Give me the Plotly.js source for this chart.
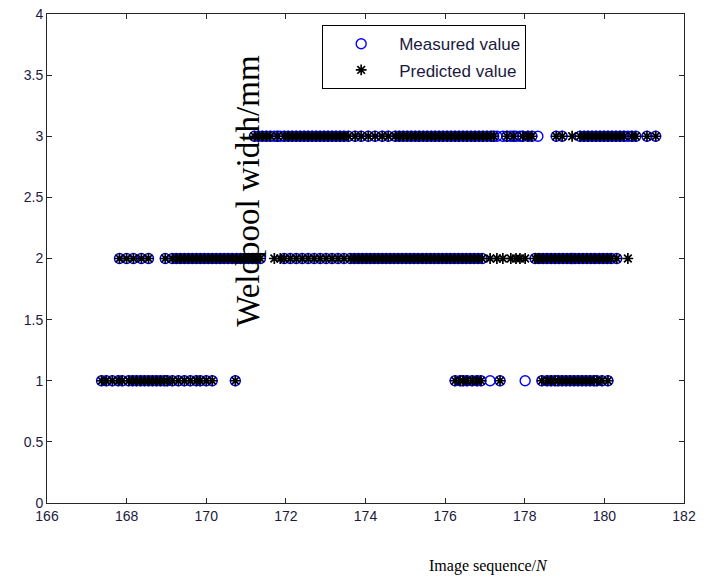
<!DOCTYPE html>
<html>
<head>
<meta charset="utf-8">
<script src="https://cdn.plot.ly/plotly-3.0.1.min.js"></script>
<style>html,body{margin:0;padding:0;background:#fff}#chart{width:717px;height:579px}</style>
</head>
<body>
<div id="chart"></div>
<script>
// Image sequence positions where measured and predicted widths agree
const seqAgree1 = [167.37, 167.49, 167.64, 167.79, 167.89, 168.05, 168.15, 168.25, 168.35, 168.45, 168.55, 168.65, 168.75, 168.85, 168.95, 169.02, 169.15, 169.30, 169.45, 169.60, 169.75, 169.85, 170.00, 170.15, 170.73,
  176.25, 176.38, 176.45, 176.55, 176.68, 176.80, 176.90, 177.38,
  178.43, 178.56, 178.66, 178.76, 178.84, 178.94, 179.04, 179.14, 179.24, 179.34, 179.44, 179.54, 179.64, 179.74, 179.81, 179.94, 180.09];
const seqAgree2 = [167.82, 168.00, 168.17, 168.37, 168.55, 168.97, 169.15, 169.25, 169.35, 169.45, 169.55, 169.65, 169.75, 169.85, 169.95, 170.05, 170.15, 170.25, 170.35, 170.45, 170.55, 170.65, 170.76, 170.86, 170.96, 171.06, 171.16, 171.26, 171.36,
  171.96, 172.11, 172.26, 172.41, 172.56, 172.71, 172.86, 173.01, 173.16, 173.31, 173.46,
  173.62, 173.72, 173.82, 173.92, 174.02, 174.12, 174.22, 174.32, 174.42, 174.52, 174.62, 174.72, 174.82, 174.92, 175.02, 175.12, 175.22, 175.32, 175.43, 175.53, 175.63, 175.73, 175.83, 175.93, 176.03, 176.13, 176.23, 176.33, 176.43, 176.53, 176.63, 176.73, 176.83, 176.93,
  178.26, 178.36, 178.46, 178.56, 178.66, 178.76, 178.86, 178.96, 179.06, 179.16, 179.26, 179.36, 179.46, 179.56, 179.66, 179.76, 179.87, 179.97, 180.07, 180.17, 180.31];
const seqAgree3 = [171.21, 171.31, 171.41, 171.51, 171.61, 171.79, 171.96, 172.06, 172.16, 172.26, 172.36, 172.46, 172.56, 172.66, 172.76, 172.86, 172.96, 173.06, 173.16, 173.26, 173.36, 173.46,
  173.57, 173.74, 173.89, 174.07, 174.24, 174.42, 174.57,
  174.75, 174.85, 174.95, 175.05, 175.15, 175.25, 175.35, 175.45, 175.55, 175.65, 175.75, 175.85, 175.95, 176.05, 176.15, 176.25, 176.35, 176.45, 176.55, 176.65, 176.75, 176.85, 176.95, 177.05, 177.15, 177.22, 177.55, 177.72, 177.95, 178.08, 178.18,
  178.79, 178.94,
  179.39, 179.49, 179.59, 179.69, 179.79, 179.89, 179.99, 180.09, 180.19, 180.29, 180.39, 180.49, 180.69, 180.79, 181.07, 181.29];
// Samples where the prediction differs from the measurement
const seqMismatch = [177.13, 178.01, 171.71, 171.86, 177.30, 177.45, 177.65, 177.78, 177.88, 178.33, 179.19, 180.59];
const measMismatch = [1, 1, 3, 3, 3, 3, 3, 3, 3, 3, 2, 3];
const predMismatch = [2, 2, 2, 2, 2, 2, 2, 2, 2, 2, 3, 2];

const xTicks = [166, 168, 170, 172, 174, 176, 178, 180, 182];
const yTicks = [0, 0.5, 1, 1.5, 2, 2.5, 3, 3.5, 4];

const agreeX = seqAgree1.concat(seqAgree2, seqAgree3);
const agreeY = seqAgree1.map(() => 1).concat(seqAgree2.map(() => 2), seqAgree3.map(() => 3));

const measured = {
  x: agreeX.concat(seqMismatch), y: agreeY.concat(measMismatch),
  type: 'scatter', mode: 'markers', name: 'Measured value', legendgroup: 'm',
  marker: {symbol: 'circle-open', size: 10, color: '#0000ff', line: {width: 1.4, color: '#0000ff'}}
};
const predicted = {
  x: agreeX.concat(seqMismatch), y: agreeY.concat(predMismatch),
  type: 'scatter', mode: 'markers', name: 'Predicted value', legendgroup: 'p',
  marker: {symbol: 'asterisk-open', size: 9, color: '#000', line: {width: 1.7, color: '#000'}}
};

const axisCommon = {
  showgrid: false, zeroline: false, showline: true, linecolor: '#262626', linewidth: 1,
  mirror: 'ticks', ticks: 'inside', ticklen: 5, tickcolor: '#262626',
  tickfont: {family: 'Liberation Sans, Arial, sans-serif', size: 14, color: '#1a1a40'}
};

const layout = {
  width: 717, height: 579,
  margin: {l: 46.5, r: 33, t: 14, b: 76.3},
  paper_bgcolor: '#fff', plot_bgcolor: '#fff',
  xaxis: Object.assign({}, axisCommon, {range: [166, 182], tickvals: xTicks, ticktext: xTicks.map(String)}),
  yaxis: Object.assign({}, axisCommon, {range: [0, 4], tickvals: yTicks, ticktext: yTicks.map(String)}),
  showlegend: true,
  legend: {
    x: 0.432, y: 0.977, xanchor: 'left', yanchor: 'top',
    bordercolor: '#000', borderwidth: 1, bgcolor: '#fff',
    font: {family: 'Liberation Sans, Arial, sans-serif', size: 17, color: '#1a1a40'},
    itemwidth: 66, tracegroupgap: 1
  },
  annotations: [
    {text: 'Weldpool width/mm', xref: 'paper', yref: 'paper', x: 0.3145, y: 0.639,
     textangle: -90, showarrow: false, xanchor: 'center', yanchor: 'middle',
     font: {family: 'Liberation Serif, Times New Roman, serif', size: 33, color: '#000'}},
    {text: 'Image sequence/<i>N</i>', xref: 'paper', yref: 'paper', x: 0.6925, y: -0.1295,
     showarrow: false, xanchor: 'center', yanchor: 'middle',
     font: {family: 'Liberation Serif, Times New Roman, serif', size: 16, color: '#000'}}
  ]
};

Plotly.newPlot('chart', [measured, predicted], layout, {staticPlot: true, displayModeBar: false});
</script>
</body>
</html>
